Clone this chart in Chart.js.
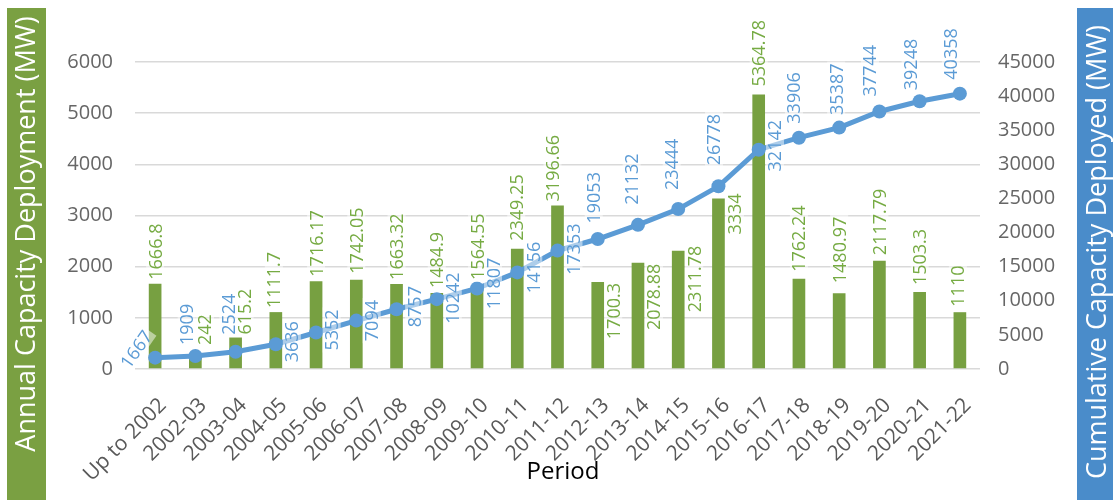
<!DOCTYPE html>
<html>
<head>
<meta charset="utf-8">
<script src="https://cdn.jsdelivr.net/npm/chart.js@4.4.1/dist/chart.umd.min.js"></script>
<style>
  html, body { margin: 0; padding: 0; background: #ffffff; }
  #wrap { width: 1113px; height: 500px; position: relative; }
</style>
</head>
<body>
<div id="wrap"><canvas id="combo-chart"></canvas></div>
<script>
// Periods on the x axis
const periods = [
  "Up to 2002", "2002-03", "2003-04", "2004-05", "2005-06", "2006-07", "2007-08",
  "2008-09", "2009-10", "2010-11", "2011-12", "2012-13", "2013-14", "2014-15",
  "2015-16", "2016-17", "2017-18", "2018-19", "2019-20", "2020-21", "2021-22"
];

// Capacity added in each period (MW)
const annualMW = [
  1666.8, 242, 615.2, 1111.7, 1716.17, 1742.05, 1663.32, 1484.9, 1564.55, 2349.25,
  3196.66, 1700.3, 2078.88, 2311.78, 3334, 5364.78, 1762.24, 1480.97, 2117.79, 1503.3, 1110
];

// Running total (MW)
const cumulativeMW = [
  1667, 1909, 2524, 3636, 5352, 7094, 8757, 10242, 11807, 14156,
  17353, 19053, 21132, 23444, 26778, 32142, 33906, 35387, 37744, 39248, 40358
];

const annualLabels = annualMW.map(String);
const cumulativeLabels = cumulativeMW.map(String);

// label placement: [side, dx, offset, rotation]
// up   -> text starts `offset` px above the mark and runs upward
// down -> text ends `offset` px below the mark
// mid  -> text centred `offset` px below the mark
const barLabelPlacement = [
  ["up", 0, 4], ["up", 9.6, 11.6], ["up", 9, 3], ["up", -2, 4], ["up", 0, 4.5],
  ["up", 0, 6], ["up", 0, 4], ["up", 0, 5], ["up", 0, 9], ["up", -1, 8],
  ["up", -5, 4], ["down", 15.5, 1], ["down", 16, 1], ["down", 16, -5], ["down", 16.5, -5],
  ["up", 0, 8], ["up", 0, 7], ["up", 0, 10], ["up", 0, 5.5], ["up", 0, 7], ["up", -2, 5.5]
];
const lineLabelPlacement = [
  ["mid", -19, -8.5, -55], ["up", -8.7, 11], ["up", -7.3, 17], ["mid", 16, -2.5], ["mid", 15.6, -2.5],
  ["mid", 15.4, 0], ["mid", 17.6, -2.6], ["mid", 16, -1], ["mid", 16, -5], ["mid", 16, -5],
  ["mid", 16, -1.5], ["up", -4, 15.5], ["up", -6.3, 20], ["up", -6.5, 19], ["up", -4.5, 21],
  ["mid", 16.3, -4], ["up", -5, 14], ["up", -3, 12.6], ["up", -9.4, 15], ["up", -9, 11], ["up", -9, 14]
];

const FONT = "'Open Sans', 'DejaVu Sans', sans-serif";
const GREEN = "#77a041";
const GREEN_TEXT = "#76ab43";
const BLUE = "#5b9bd5";

const drawLabel = (ctx, text, x, y, place, color, size) => {
  const [side, dx, off, rot = -90] = place;
  const capHalf = size * 0.36;
  let ax = x + dx;
  let ay = y;
  let align = "center";
  if (side === "up") { ay = y - off; align = "left"; }
  else if (side === "down") { ay = y + off; align = "right"; }
  else { ay = y + off; }
  ctx.save();
  ctx.font = `${size}px ${FONT}`;
  const w = ctx.measureText(text).width;
  ctx.translate(ax, ay);
  ctx.rotate(rot * Math.PI / 180);
  const x0 = align === "left" ? 0 : align === "right" ? -w : -w / 2;
  // semi-transparent backing behind each value
  ctx.fillStyle = "rgba(255,255,255,0.5)";
  ctx.fillRect(x0 - 2, -size * 0.5, w + 4, size);
  ctx.fillStyle = color;
  ctx.textAlign = align;
  ctx.textBaseline = "alphabetic";
  ctx.fillText(text, 0, capHalf);
  ctx.restore();
};

const valueLabels = {
  id: "valueLabels",
  afterDatasetsDraw(chart) {
    const ctx = chart.ctx;
    const bars = chart.getDatasetMeta(0).data;
    const points = chart.getDatasetMeta(1).data;
    bars.forEach((bar, i) => {
      drawLabel(ctx, annualLabels[i], bar.x, bar.y, barLabelPlacement[i], GREEN_TEXT, 18);
    });
    points.forEach((pt, i) => {
      drawLabel(ctx, cumulativeLabels[i], pt.x, pt.y, lineLabelPlacement[i], BLUE, 18);
    });
  }
};

// coloured bands carrying the two y-axis titles, plus the x-axis title
const axisTitles = {
  id: "axisTitles",
  beforeDraw(chart) {
    const ctx = chart.ctx;
    const bandTitle = (text, cx, cy) => {
      ctx.save();
      ctx.fillStyle = "#ffffff";
      ctx.font = `27px ${FONT}`;
      ctx.textAlign = "center";
      ctx.textBaseline = "middle";
      ctx.translate(cx, cy);
      ctx.rotate(-Math.PI / 2);
      ctx.fillText(text, 0, 0);
      ctx.restore();
    };
    ctx.save();
    ctx.fillStyle = "#7aa042";
    ctx.fillRect(7, 8, 39, 492);
    ctx.fillStyle = "#4a8cca";
    ctx.fillRect(1077, 8, 40, 492);
    ctx.restore();
    bandTitle("Annual Capacity Deployment (MW)", 27, 234);
    bandTitle("Cumulative Capacity Deployed (MW)", 1098, 252);

    ctx.save();
    ctx.fillStyle = "#000000";
    ctx.font = `24px ${FONT}`;
    ctx.textAlign = "center";
    ctx.textBaseline = "middle";
    ctx.fillText("Period", 563, 472);
    ctx.restore();
  }
};

const ctx = document.getElementById("combo-chart");

new Chart(ctx, {
  data: {
    labels: periods,
    datasets: [
      {
        type: "bar",
        label: "Annual Capacity Deployment (MW)",
        data: annualMW,
        backgroundColor: GREEN,
        yAxisID: "y",
        categoryPercentage: 1,
        barPercentage: 0.315,
        order: 2,
      },
      {
        type: "line",
        label: "Cumulative Capacity Deployed (MW)",
        data: cumulativeMW,
        borderColor: BLUE,
        backgroundColor: BLUE,
        borderWidth: 5,
        pointRadius: 7,
        pointBorderWidth: 0,
        pointHoverRadius: 7,
        yAxisID: "y2",
        order: 1,
      },
    ],
  },
  options: {
    responsive: true,
    maintainAspectRatio: false,
    animation: false,
    layout: { padding: { top: 62, left: 0, right: 0, bottom: 0 } },
    plugins: {
      legend: { display: false },
      tooltip: { enabled: false },
    },
    scales: {
      x: {
        grid: { display: false },
        border: { display: false },
        ticks: {
          autoSkip: false,
          minRotation: 45,
          maxRotation: 45,
          padding: 16,
          labelOffset: 8,
          color: "#595959",
          font: { family: FONT, size: 21 },
        },
        afterFit: (scale) => { scale.height = 131; },
      },
      y: {
        position: "left",
        min: 0,
        max: 6000,
        grid: { color: "#d9d9d9", lineWidth: 1.5, drawTicks: false },
        border: { display: false },
        ticks: {
          stepSize: 1000,
          padding: 22,
          color: "#666666",
          font: { family: FONT, size: 20 },
          callback: (v) => String(v),
        },
        afterFit: (scale) => { scale.width = 135; },
      },
      y2: {
        position: "right",
        min: 0,
        max: 45000,
        grid: { display: false, drawTicks: false },
        border: { display: false },
        ticks: {
          stepSize: 5000,
          padding: 18,
          color: "#666666",
          font: { family: FONT, size: 20 },
          callback: (v) => String(v),
        },
        afterFit: (scale) => { scale.width = 133; },
      },
    },
  },
  plugins: [axisTitles, valueLabels],
});
</script>
</body>
</html>
